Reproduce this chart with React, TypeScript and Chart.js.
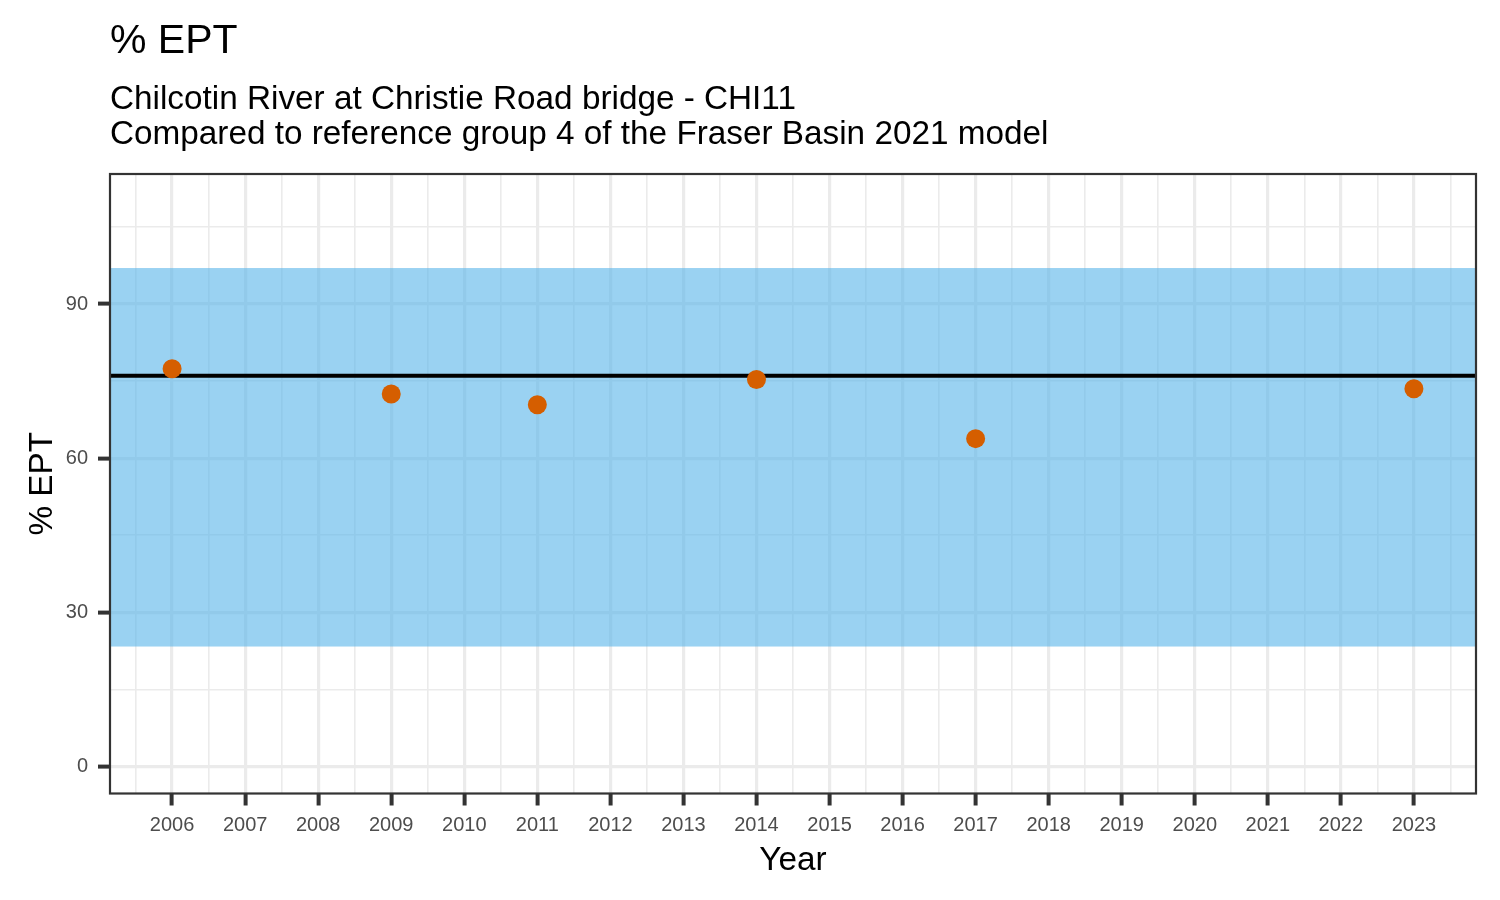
import React, { useEffect, useRef } from "react";
import { Chart, registerables } from "chart.js";

Chart.register(...registerables);

// ---- data ----
const years = [2006, 2009, 2011, 2014, 2017, 2023];
const eptValues = [77.4, 72.5, 70.4, 75.3, 63.8, 73.5];
const referenceMedian = 76.05;
const referenceLower = 23.35;
const referenceUpper = 97.0;
const xLimits = [2005.15, 2023.85];
const yLimits = [-5.25, 115.3];
const xMajorTicks = [2006, 2007, 2008, 2009, 2010, 2011, 2012, 2013, 2014, 2015, 2016, 2017, 2018, 2019, 2020, 2021, 2022, 2023];
const xMinorTicks = [2005.5, 2006.5, 2007.5, 2008.5, 2009.5, 2010.5, 2011.5, 2012.5, 2013.5, 2014.5, 2015.5, 2016.5, 2017.5, 2018.5, 2019.5, 2020.5, 2021.5, 2022.5, 2023.5];
const yMajorTicks = [0, 30, 60, 90];
const yMinorTicks = [15, 45, 75, 105];
const titleText = "% EPT";
const subtitleLines = [
  "Chilcotin River at Christie Road bridge - CHI11",
  "Compared to reference group 4 of the Fraser Basin 2021 model",
];
const xAxisTitle = "Year";
const yAxisTitle = "% EPT";

const FONT = "'Liberation Sans', Arial, Helvetica, sans-serif";

const isMajor = (list: number[], v: number) => list.some((m) => Math.abs(m - v) < 1e-6);

const decorPlugin = {
  id: "decor",
  beforeDatasetsDraw(chart: any) {
    const { ctx, chartArea, scales } = chart;
    const y = scales.y;
    ctx.save();
    ctx.beginPath();
    ctx.rect(chartArea.left, chartArea.top, chartArea.right - chartArea.left, chartArea.bottom - chartArea.top);
    ctx.clip();
    const yTop = y.getPixelForValue(referenceUpper);
    const yBot = y.getPixelForValue(referenceLower);
    ctx.fillStyle = "rgba(86,180,233,0.6)";
    ctx.fillRect(chartArea.left, yTop, chartArea.right - chartArea.left, yBot - yTop);
    const yMed = y.getPixelForValue(referenceMedian);
    ctx.strokeStyle = "#000000";
    ctx.lineWidth = 4;
    ctx.beginPath();
    ctx.moveTo(chartArea.left, yMed);
    ctx.lineTo(chartArea.right, yMed);
    ctx.stroke();
    ctx.restore();
  },
  afterDraw(chart: any) {
    const { ctx, chartArea } = chart;
    ctx.save();
    // panel border
    ctx.strokeStyle = "#333333";
    ctx.lineWidth = 2.2;
    ctx.strokeRect(chartArea.left, chartArea.top, chartArea.right - chartArea.left, chartArea.bottom - chartArea.top);
    // titles
    ctx.fillStyle = "#000000";
    ctx.textBaseline = "alphabetic";
    ctx.textAlign = "left";
    ctx.font = `41px ${FONT}`;
    ctx.fillText(titleText, chartArea.left, 52.5);
    ctx.font = `33.3px ${FONT}`;
    ctx.fillText(subtitleLines[0], chartArea.left, 108.5);
    ctx.fillText(subtitleLines[1], chartArea.left, 144);
    // x axis title
    ctx.textAlign = "center";
    ctx.fillText(xAxisTitle, (chartArea.left + chartArea.right) / 2, 870);
    // y axis title
    ctx.translate(52, (chartArea.top + chartArea.bottom) / 2);
    ctx.rotate(-Math.PI / 2);
    ctx.fillText(yAxisTitle, 0, 0);
    ctx.restore();
  },
};

export default function App() {
  const canvasRef = useRef<HTMLCanvasElement | null>(null);

  useEffect(() => {
    document.body.style.margin = "0";
    const canvas = canvasRef.current;
    if (!canvas) return;
    const chart = new Chart(canvas, {
      type: "scatter",
      data: {
        datasets: [
          {
            label: "% EPT",
            data: years.map((yr, i) => ({ x: yr, y: eptValues[i] })),
            backgroundColor: "#D55E00",
            borderColor: "#D55E00",
            borderWidth: 0,
            pointRadius: 9.5,
            pointHoverRadius: 9.5,
          },
        ],
      },
      options: {
        animation: false,
        responsive: false,
        devicePixelRatio: 1,
        layout: { padding: { top: 174, right: 24, left: 0, bottom: 0 } },
        plugins: {
          legend: { display: false },
          tooltip: { enabled: false },
          title: { display: false },
        },
        scales: {
          x: {
            type: "linear",
            min: xLimits[0],
            max: xLimits[1],
            afterFit(scale: any) {
              scale.height = 106.5;
            },
            afterBuildTicks(scale: any) {
              scale.ticks = [...xMajorTicks, ...xMinorTicks]
                .sort((a, b) => a - b)
                .map((v) => ({ value: v }));
            },
            border: { display: false },
            grid: {
              color: "#EBEBEB",
              lineWidth: (c: any) => (isMajor(xMajorTicks, c.tick?.value) ? 3.2 : 1.6),
              drawTicks: true,
              tickLength: 12,
              tickWidth: 4,
              tickColor: (c: any) => (isMajor(xMajorTicks, c.tick?.value) ? "#333333" : "rgba(0,0,0,0)"),
            },
            ticks: {
              autoSkip: false,
              maxRotation: 0,
              minRotation: 0,
              padding: 8,
              color: "#4D4D4D",
              font: { family: FONT, size: 20 },
              callback: (v: any) => (isMajor(xMajorTicks, Number(v)) ? String(v) : ""),
            },
          },
          y: {
            type: "linear",
            min: yLimits[0],
            max: yLimits[1],
            afterFit(scale: any) {
              scale.width = 110;
            },
            afterBuildTicks(scale: any) {
              scale.ticks = [...yMajorTicks, ...yMinorTicks]
                .sort((a, b) => a - b)
                .map((v) => ({ value: v }));
            },
            border: { display: false },
            grid: {
              color: "#EBEBEB",
              lineWidth: (c: any) => (isMajor(yMajorTicks, c.tick?.value) ? 3.2 : 1.6),
              drawTicks: true,
              tickLength: 12,
              tickWidth: 4,
              tickColor: (c: any) => (isMajor(yMajorTicks, c.tick?.value) ? "#333333" : "rgba(0,0,0,0)"),
            },
            ticks: {
              autoSkip: false,
              padding: 10,
              color: "#4D4D4D",
              font: { family: FONT, size: 20 },
              callback: (v: any) => (isMajor(yMajorTicks, Number(v)) ? String(v) : ""),
            },
          },
        },
      },
      plugins: [decorPlugin],
    } as any);
    return () => chart.destroy();
  }, []);

  return (
    <div style={{ position: "absolute", left: 0, top: 0, width: 1500, height: 900, background: "#ffffff" }}>
      <canvas ref={canvasRef} width={1500} height={900} style={{ display: "block" }} />
    </div>
  );
}
